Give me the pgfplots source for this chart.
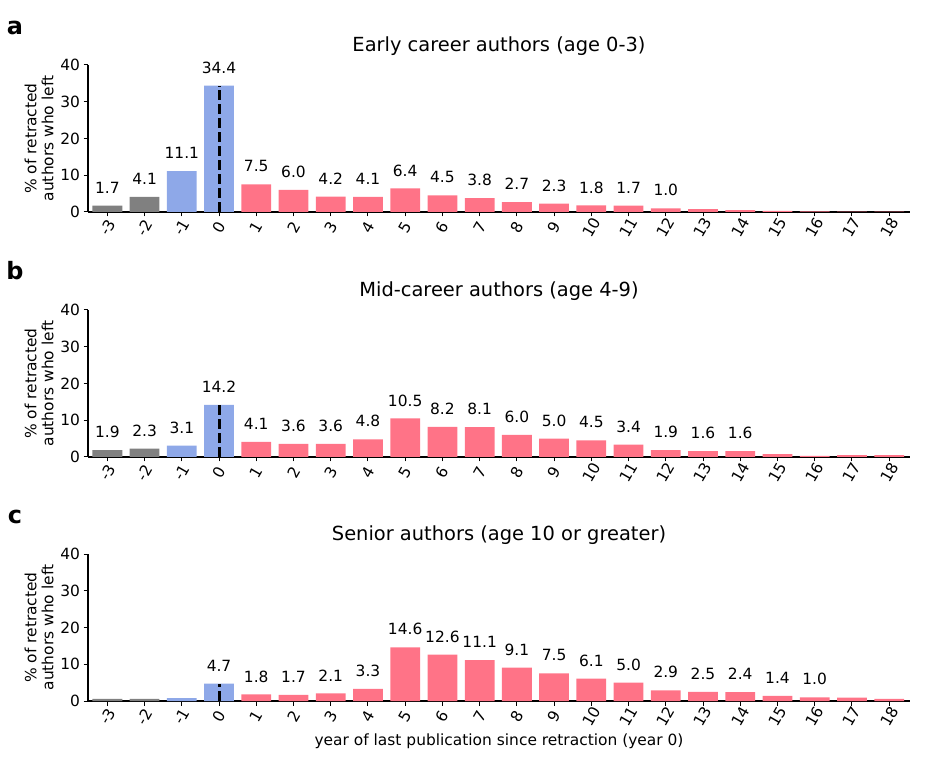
\documentclass[border=0pt]{standalone}
\usepackage{fontspec}
\setmainfont{DejaVu Sans}
\usepackage{pgfplots}
\pgfplotsset{compat=1.18}

\definecolor{bgrey}{RGB}{128,128,128}
\definecolor{bblue}{RGB}{142,168,232}
\definecolor{bpink}{RGB}{255,115,135}

\pgfplotsset{
  panel/.style={
    scale only axis,
    width=822bp, height=147bp,
    xmin=-3.52, xmax=18.56,
    ymin=0, ymax=40,
    xtick={-3,...,18},
    ytick={0,10,20,30,40},
    axis x line*=bottom, axis y line*=left,
    axis line style={line width=1.1bp},
    tick style={black, line width=1bp},
    major tick length=4.5bp,
    tick align=outside,
    /pgf/number format/assume math mode=true,
    tick label style={font=\fontsize{15.5}{18}\selectfont},
    xticklabel style={anchor=center, rotate=60},
    xticklabel shift=11bp,
    ylabel={\% of retracted\\authors who left},
    ylabel style={align=center, font=\fontsize{15.5}{17}\selectfont, yshift=0bp},
    title style={font=\fontsize{19.5}{22}\selectfont, yshift=0bp},
    clip=false,
  },
  bars/.style={ybar, bar width=0.8, bar shift=0pt, draw=none, fill=#1},
  vals/.style={only marks, mark=none, nodes near coords, point meta=explicit symbolic,
    nodes near coords style={anchor=center, yshift=18bp, font=\fontsize{15.5}{18}\selectfont}},
  zero/.style={black, line width=3bp, dash pattern=on 10bp off 4bp},
}

\begin{document}
\begin{tikzpicture}
\useasboundingbox (0,0) rectangle (926bp,770bp);

% panel a
\begin{axis}[panel, at={(88bp,558bp)}, title={Early career authors (age 0-3)}]
\addplot[bars=bgrey] coordinates {(-3,1.7) (-2,4.1)};
\addplot[bars=bblue] coordinates {(-1,11.1) (0,34.4)};
\addplot[bars=bpink] coordinates {(1,7.5) (2,6.0) (3,4.2) (4,4.1) (5,6.4) (6,4.5) (7,3.8) (8,2.7) (9,2.3) (10,1.8) (11,1.7) (12,1.0) (13,0.8) (14,0.5) (15,0.3) (16,0.15) (17,0.1) (18,0.1)};
\addplot[zero] coordinates {(0,0) (0,34.4)};
\addplot[vals] coordinates {(-3,1.7)[1.7] (-2,4.1)[4.1] (-1,11.1)[11.1] (0,34.4)[34.4] (1,7.5)[7.5] (2,6.0)[6.0] (3,4.2)[4.2] (4,4.1)[4.1] (5,6.4)[6.4] (6,4.5)[4.5] (7,3.8)[3.8] (8,2.7)[2.7] (9,2.3)[2.3] (10,1.8)[1.8] (11,1.7)[1.7] (12,1.0)[1.0]};
\end{axis}

% panel b
\begin{axis}[panel, at={(88bp,313bp)}, title={Mid-career authors (age 4-9)}]
\addplot[bars=bgrey] coordinates {(-3,1.9) (-2,2.3)};
\addplot[bars=bblue] coordinates {(-1,3.1) (0,14.2)};
\addplot[bars=bpink] coordinates {(1,4.1) (2,3.6) (3,3.6) (4,4.8) (5,10.5) (6,8.2) (7,8.1) (8,6.0) (9,5.0) (10,4.5) (11,3.4) (12,1.9) (13,1.6) (14,1.6) (15,0.8) (16,0.3) (17,0.5) (18,0.5)};
\addplot[zero] coordinates {(0,0) (0,14.2)};
\addplot[vals] coordinates {(-3,1.9)[1.9] (-2,2.3)[2.3] (-1,3.1)[3.1] (0,14.2)[14.2] (1,4.1)[4.1] (2,3.6)[3.6] (3,3.6)[3.6] (4,4.8)[4.8] (5,10.5)[10.5] (6,8.2)[8.2] (7,8.1)[8.1] (8,6.0)[6.0] (9,5.0)[5.0] (10,4.5)[4.5] (11,3.4)[3.4] (12,1.9)[1.9] (13,1.6)[1.6] (14,1.6)[1.6]};
\end{axis}

% panel c
\begin{axis}[panel, at={(88bp,69bp)}, title={Senior authors (age 10 or greater)},
  xlabel={year of last publication since retraction (year 0)},
  xlabel style={font=\fontsize{15.5}{18}\selectfont, yshift=2bp}]
\addplot[bars=bgrey] coordinates {(-3,0.6) (-2,0.6)};
\addplot[bars=bblue] coordinates {(-1,0.8) (0,4.7)};
\addplot[bars=bpink] coordinates {(1,1.8) (2,1.7) (3,2.1) (4,3.3) (5,14.6) (6,12.6) (7,11.1) (8,9.1) (9,7.5) (10,6.1) (11,5.0) (12,2.9) (13,2.5) (14,2.4) (15,1.4) (16,1.0) (17,0.9) (18,0.6)};
\addplot[zero] coordinates {(0,0) (0,4.7)};
\addplot[vals] coordinates {(0,4.7)[4.7] (1,1.8)[1.8] (2,1.7)[1.7] (3,2.1)[2.1] (4,3.3)[3.3] (5,14.6)[14.6] (6,12.6)[12.6] (7,11.1)[11.1] (8,9.1)[9.1] (9,7.5)[7.5] (10,6.1)[6.1] (11,5.0)[5.0] (12,2.9)[2.9] (13,2.5)[2.5] (14,2.4)[2.4] (15,1.4)[1.4] (16,1.0)[1.0]};
\end{axis}

\node[font=\bfseries\fontsize{24}{27}\selectfont] at (15bp,742bp) {a};
\node[font=\bfseries\fontsize{24}{27}\selectfont] at (15bp,499bp) {b};
\node[font=\bfseries\fontsize{24}{27}\selectfont] at (15bp,253bp) {c};
\end{tikzpicture}
\end{document}
